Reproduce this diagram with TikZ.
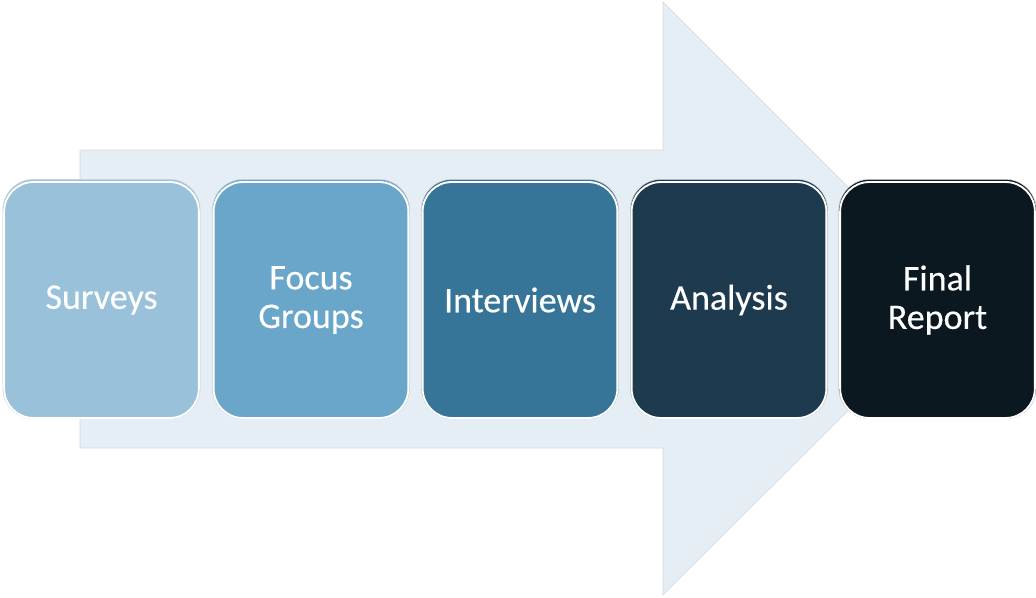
\documentclass[tikz,border=0pt]{standalone}
\usepackage{fontspec}
\setmainfont{Carlito}
\newfontfamily\stagefont[FakeBold=0.3]{Carlito}
\definecolor{arrowfill}{HTML}{E5EDF5}
\definecolor{arrowline}{HTML}{D3D8DD}
\definecolor{c1}{HTML}{9AC1DA}
\definecolor{c2}{HTML}{6AA6CA}
\definecolor{c3}{HTML}{367597}
\definecolor{c4}{HTML}{1D3A4F}
\definecolor{c5}{HTML}{0C1820}
\begin{document}
\begin{tikzpicture}[x=0.75pt,y=-0.75pt,
  stage/.style={rectangle, rounded corners=22pt, minimum width=146pt, minimum height=177pt,
    draw=white, line width=1.4pt, text=white, align=center,
    font=\stagefont\fontsize{27}{29}\selectfont, inner sep=0pt},
  stageedge/.style={rectangle, minimum width=148pt, minimum height=179.5pt,
    draw=black!15, line width=0.4pt, rounded corners=23pt}]
\useasboundingbox (0,0) rectangle (1036,597);
% big arrow
\coordinate (s1) at (80,150);
\coordinate (s2) at (663,150);
\coordinate (h1) at (663,2);
\coordinate (tip) at (960,299);
\coordinate (h2) at (663,595);
\coordinate (s3) at (663,448);
\coordinate (s4) at (80,448);
\fill[arrowfill, draw=arrowline, line width=0.4pt] (s1) -- (s2) -- (h1) -- (tip) -- (h2) -- (s3) -- (s4) -- cycle;
% stages
\foreach \n/\x/\c/\t in {a/101.5/c1/Surveys, b/311/c2/{Focus\\Groups}, c/520/c3/Interviews, d/729/c4/Analysis, e/937.5/c5/{Final\\Report}}{
  \node[stageedge, fill=\c] (\n edge) at (\x,299) {};
  \node[stage, fill=\c] (\n) at (\x,300) {\t};
}
\end{tikzpicture}
\end{document}
